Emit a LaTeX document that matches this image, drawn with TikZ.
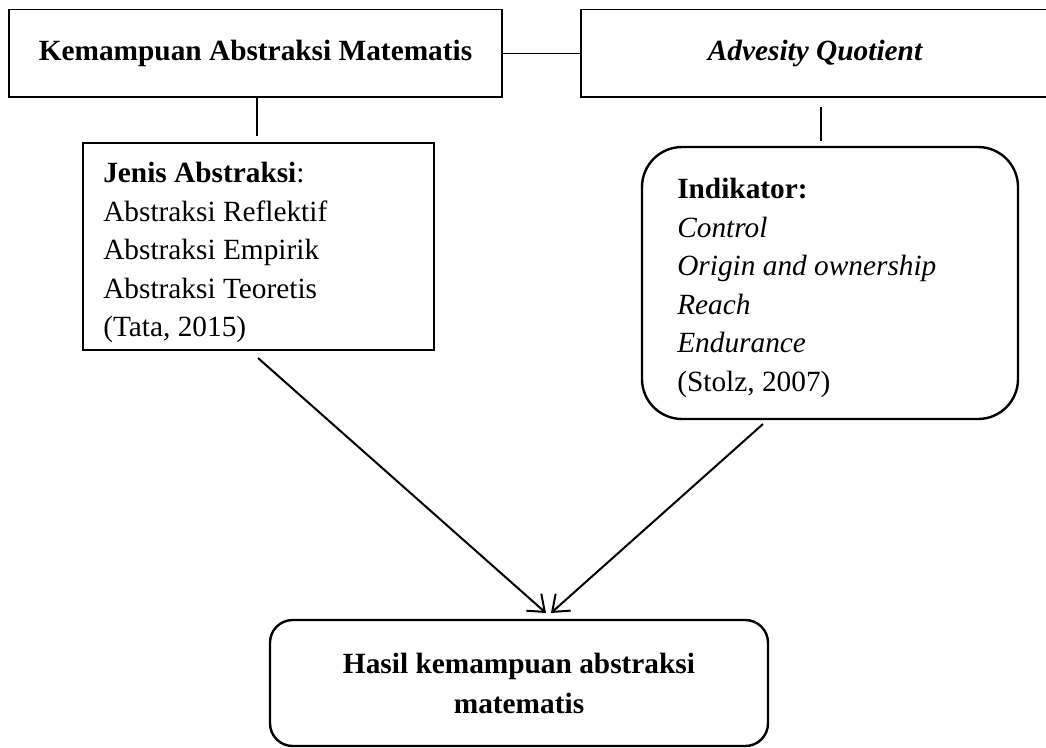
\documentclass[tikz,border=0pt]{standalone}
\usepackage{fontspec}
\setmainfont{Liberation Serif}
\usetikzlibrary{arrows.meta,calc}
\tikzset{
  sqbox/.style={draw, line width=1.1pt, inner sep=0pt},
  rndbox/.style={draw, line width=1.8pt, inner sep=0pt},
  conn/.style={line width=1.1pt},
  arr/.style={line width=1.5pt, -{Straight Barb[length=11pt,width=17pt,line width=1.5pt]}},
  txt/.style={inner sep=0pt, align=left, anchor=north west, font=\fontsize{22}{28.9}\selectfont},
}
\begin{document}
\begin{tikzpicture}[x=0.75pt,y=-0.75pt]
\clip (0,0) rectangle (1046,747);
\fill[white] (0,0) rectangle (1046,747);
% top boxes
\node[sqbox, minimum width=369.75pt, minimum height=65.6pt, font=\fontsize{22}{28.9}\selectfont\bfseries] (box1) at (255.5,53.25) {Kemampuan Abstraksi Matematis};
\node[sqbox, minimum width=351pt, minimum height=65.6pt, font=\fontsize{22}{28.9}\selectfont\bfseries\itshape] (box2) at (815,53.25) {Advesity Quotient};
\draw[conn] (box1.east) -- (box2.west);
% jenis box
\node[sqbox, minimum width=263.25pt, minimum height=155.25pt] (jenis) at (258.5,246.5) {};
\node[txt] (jenistxt) at (103,162) {\textbf{Jenis Abstraksi}:\\Abstraksi Reflektif\\Abstraksi Empirik\\Abstraksi Teoretis\\(Tata, 2015)};
% indikator box
\node[rndbox, rounded corners=30pt, minimum width=282pt, minimum height=204pt] (ind) at (830,283) {};
\node[txt] (indtxt) at (677,178) {\textbf{Indikator:}\\\textit{Control}\\\textit{Origin and ownership}\\\textit{Reach}\\\textit{Endurance}\\(Stolz, 2007)};
% vertical connectors
\coordinate (l1) at (257,97);
\coordinate (r1) at (821,107);
\draw[conn] (l1) -- ($(l1 |- jenis.north)+(0,-6)$);
\draw[line width=1.5pt] (r1) -- ($(r1 |- ind.north)+(0,-5)$);
% final box
\node[rndbox, rounded corners=17pt, minimum width=373.5pt, minimum height=94.5pt, align=center, font=\fontsize{22}{30}\selectfont\bfseries] (final) at (519,683) {Hasil kemampuan abstraksi\\matematis};
% arrows
\coordinate (tipL) at (546,613);
\coordinate (tipR) at (551,613);
\coordinate (startL) at (258,358);
\coordinate (startR) at (763,424);
\draw[arr] (startL) -- (tipL);
\draw[arr] (startR) -- (tipR);
\end{tikzpicture}
\end{document}
